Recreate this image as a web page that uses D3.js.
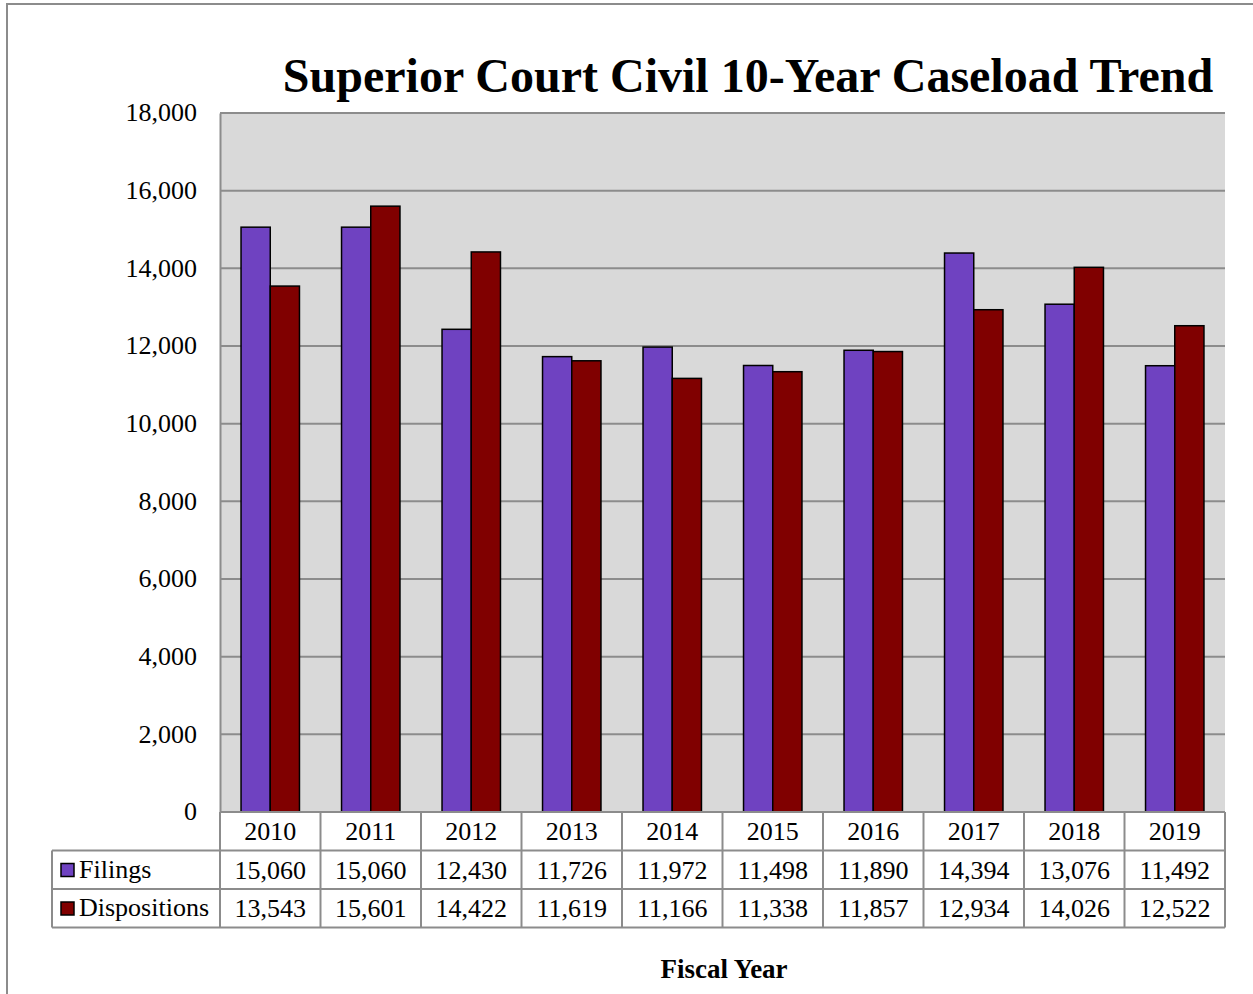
<!DOCTYPE html>
<html>
<head>
<meta charset="utf-8">
<script src="https://cdn.jsdelivr.net/npm/d3@7"></script>
<style>
  body { margin: 0; background: #fff; }
  svg { display: block; }
  svg text { font-family: 'Times New Roman', 'Liberation Serif', Times, serif; }
</style>
</head>
<body>
<div id="chart"></div>
<script>
var years = ['2010','2011','2012','2013','2014','2015','2016','2017','2018','2019']
var filings = [15060,15060,12430,11726,11972,11498,11890,14394,13076,11492]
var dispositions = [13543,15601,14422,11619,11166,11338,11857,12934,14026,12522]
var seriesNames = ['Filings','Dispositions']
var seriesColors = ['#6f42c1','#800000']
var yTicks = [0,2000,4000,6000,8000,10000,12000,14000,16000,18000]

var W = 1253, H = 994
var plot = {left: 220, right: 1225, top: 113, bottom: 812}
var rowH = 38.5
var tableLeft = 52
var fs = 26

var svg = d3.select('#chart').append('svg')
  .attr('width', W)
  .attr('height', H)

// outer chart border
svg.append('rect')
  .attr('x', 7).attr('y', 4)
  .attr('width', W + 20).attr('height', H + 20)
  .attr('fill', 'none')
  .attr('stroke', '#8c8c8c')
  .attr('stroke-width', 2)

var x = d3.scaleBand().domain(years).range([plot.left, plot.right])
var y = d3.scaleLinear().domain([0, 18000]).range([plot.bottom, plot.top])
var xs = d3.scaleBand().domain(seriesNames).range([0, x.bandwidth()]).paddingOuter(0.72).paddingInner(0)

svg.append('rect')
  .attr('x', plot.left).attr('y', plot.top)
  .attr('width', plot.right - plot.left).attr('height', plot.bottom - plot.top)
  .attr('fill', '#d9d9d9')

// gridlines
svg.append('g').selectAll('line').data(yTicks.slice(1))
  .join('line')
  .attr('x1', plot.left).attr('x2', plot.right)
  .attr('y1', function(d){ return y(d) }).attr('y2', function(d){ return y(d) })
  .attr('stroke', '#8c8c8c').attr('stroke-width', 2)

// y axis
var yAxis = svg.append('g')
  .attr('transform', 'translate(' + plot.left + ',0)')
  .call(d3.axisLeft(y).tickValues(yTicks).tickSize(0).tickPadding(23).tickFormat(d3.format(',')))
yAxis.attr('font-family', null)
yAxis.select('.domain').attr('stroke', '#8c8c8c').attr('stroke-width', 2)
yAxis.selectAll('text').attr('font-size', fs).attr('fill', '#000').attr('dy', '0.3em')

// bars
var data = [filings, dispositions]
data.forEach(function(vals, si){
  svg.append('g').selectAll('rect').data(vals)
    .join('rect')
    .attr('x', function(d, i){ return x(years[i]) + xs(seriesNames[si]) })
    .attr('y', function(d){ return y(d) })
    .attr('width', xs.bandwidth())
    .attr('height', function(d){ return y(0) - y(d) })
    .attr('fill', seriesColors[si])
    .attr('stroke', '#000')
    .attr('stroke-width', 1.5)
})

// data table
var tbl = svg.append('g')
var lineColor = '#8c8c8c'
function hline(x1, x2, yy){
  tbl.append('line').attr('x1', x1).attr('x2', x2).attr('y1', yy).attr('y2', yy)
    .attr('stroke', lineColor).attr('stroke-width', 2)
}
function vline(xx, y1, y2){
  tbl.append('line').attr('x1', xx).attr('x2', xx).attr('y1', y1).attr('y2', y2)
    .attr('stroke', lineColor).attr('stroke-width', 2)
}
var r0 = plot.bottom, r1 = r0 + rowH, r2 = r1 + rowH, r3 = r2 + rowH
hline(plot.left, plot.right, r0)
hline(tableLeft, plot.right, r1)
hline(tableLeft, plot.right, r2)
hline(tableLeft, plot.right, r3)
vline(tableLeft, r1, r3)
years.forEach(function(yr){ vline(x(yr), r0, r3) })
vline(plot.right, r0, r3)

tbl.selectAll('text.yr').data(years).join('text')
  .attr('x', function(d){ return x(d) + x.bandwidth() / 2 })
  .attr('y', r0 + 28)
  .attr('text-anchor', 'middle')
  .attr('font-size', fs)
  .text(function(d){ return d })

var fmt = d3.format(',')
data.forEach(function(vals, si){
  var top = si === 0 ? r1 : r2
  tbl.append('g').selectAll('text').data(vals).join('text')
    .attr('x', function(d, i){ return x(years[i]) + x.bandwidth() / 2 })
    .attr('y', top + 28)
    .attr('text-anchor', 'middle')
    .attr('font-size', fs)
    .text(function(d){ return fmt(d) })
  tbl.append('rect')
    .attr('x', 61).attr('y', top + 13)
    .attr('width', 13).attr('height', 13)
    .attr('fill', seriesColors[si])
    .attr('stroke', '#000').attr('stroke-width', 1.5)
  tbl.append('text')
    .attr('x', 79).attr('y', top + 27)
    .attr('font-size', fs)
    .text(seriesNames[si])
})

// title
svg.append('text')
  .attr('x', 748).attr('y', 92)
  .attr('text-anchor', 'middle')
  .attr('font-size', 48)
  .attr('font-weight', 'bold')
  .text('Superior Court Civil 10-Year Caseload Trend')

svg.append('text')
  .attr('x', 724).attr('y', 978)
  .attr('text-anchor', 'middle')
  .attr('font-size', 27)
  .attr('font-weight', 'bold')
  .text('Fiscal Year')
</script>
</body>
</html>
